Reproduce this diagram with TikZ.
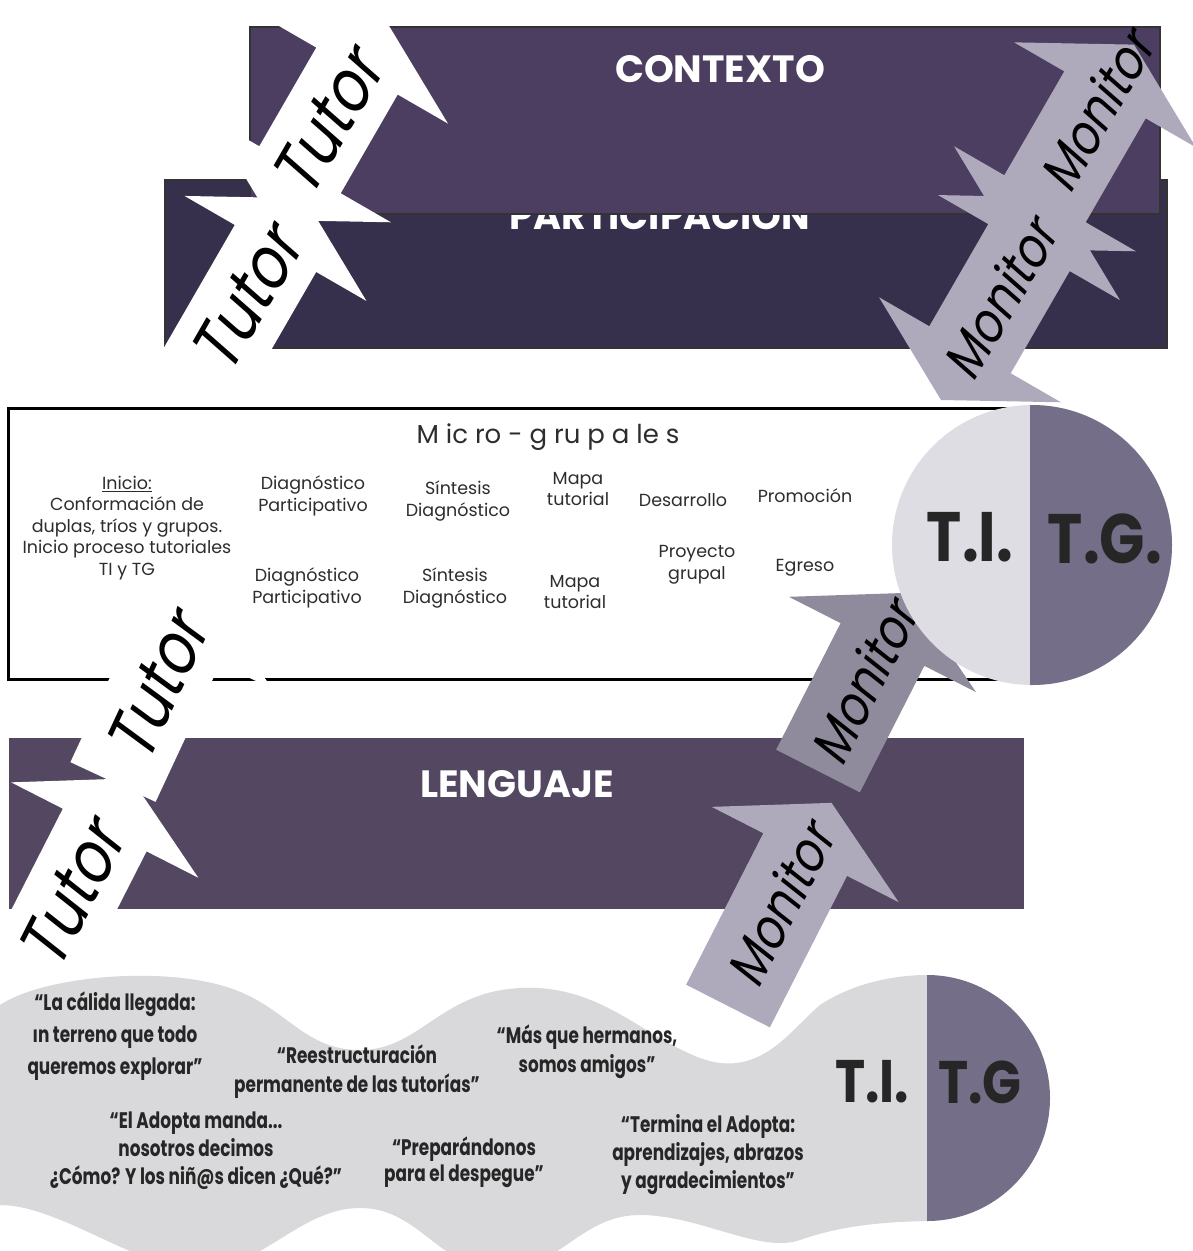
\documentclass[tikz,border=0pt]{standalone}
\usepackage{fontspec}
\setmainfont{Poppins}
\newfontfamily\armfont{Poppins}[FakeSlant=0.2, FakeStretch=0.85]
\newfontfamily\quotefont{Poppins}[FakeStretch=0.75]
\newfontfamily\bigfont{Poppins}[FakeStretch=0.85]
\usetikzlibrary{calc}
\definecolor{ctxfill}{RGB}{76,62,96}
\definecolor{partfill}{RGB}{54,48,76}
\definecolor{lengfill}{RGB}{84,71,97}
\definecolor{monlight}{RGB}{174,170,188}
\definecolor{mondark}{RGB}{143,139,156}
\definecolor{tilight}{RGB}{222,221,227}
\definecolor{tgdark}{RGB}{116,110,136}
\definecolor{ribbongray}{RGB}{217,217,220}
\definecolor{microtext}{RGB}{45,45,45}
\newcommand{\armwidth}{47}
\newcommand{\armspan}{105}
\newcommand{\armhead}{58}
% arrow with one head: style, name, tail, angle, length, label pos, label
\newcommand{\onearrow}[7]{%
    \begin{scope}[shift={#3}, rotate=#4]
        \fill[#1] (0,-\armwidth) -- ({#5-\armhead},-\armwidth) -- ({#5-\armhead},-\armspan)
            -- (#5,0) -- ({#5-\armhead},\armspan) -- ({#5-\armhead},\armwidth) -- (0,\armwidth) -- cycle;
        \node[#1 text, rotate=#4] (#2) at (#6,0) {#7};
    \end{scope}}
% arrow with two heads: style, name, first tip, angle, length, label pos, label
\newcommand{\twoarrow}[7]{%
    \begin{scope}[shift={#3}, rotate=#4]
        \fill[#1] (0,0) -- (\armhead,\armspan) -- (\armhead,\armwidth) -- ({#5-\armhead},\armwidth)
            -- ({#5-\armhead},\armspan) -- (#5,0) -- ({#5-\armhead},-\armspan) -- ({#5-\armhead},-\armwidth)
            -- (\armhead,-\armwidth) -- (\armhead,-\armspan) -- cycle;
        \node[#1 text, rotate=#4] (#2) at (#6,0) {#7};
    \end{scope}}
\tikzset{
    tutorarm/.style={fill=white},
    tutorarm text/.style={font=\armfont\fontsize{70}{70}\selectfont, text=black, inner sep=0pt},
    monarm/.style={fill=monlight},
    monarm text/.style={font=\armfont\fontsize{54}{54}\selectfont, text=black, inner sep=0pt},
    mondeep/.style={fill=mondark},
    mondeep text/.style={monarm text},
    bandbox/.style={fill=#1, draw=black!80, line width=1.5pt},
    bandtitle/.style={font=\bfseries\fontsize{38}{38}\selectfont, text=white, inner sep=0pt, anchor=base},
    phasetext/.style={font=\fontsize{17.5}{21.5}\selectfont, text=microtext, align=center, inner sep=0pt},
    quotetext/.style={font=\quotefont\bfseries\fontsize{22.5}{#1}\selectfont, text=black!85, align=center, inner sep=0pt},
    quotetext/.default=29,
    tutext/.style={font=\bigfont\bfseries\fontsize{#1}{#1}\selectfont, text=black!85, inner sep=0pt}
}
\begin{document}
\begin{tikzpicture}[x=1pt, y=-1pt]
    \useasboundingbox (0,0) rectangle (1193,1251);
    \clip (0,0) rectangle (1193,1251);

    \path[bandbox=partfill] (165,180) rectangle (1167,348);
    \node[bandtitle] (part) at (660,229) {PARTICIPACIÓN};
    \path[bandbox=ctxfill] (250,27) rectangle (1160,214);
    \node[bandtitle] (ctx) at (720,82) {CONTEXTO};

    \onearrow{tutorarm}{tutA}{(188,400)}{60}{233}{117}{Tutor}
    \twoarrow{tutorarm}{tutB}{(271,220)}{60}{230}{113}{Tutor}
    \twoarrow{monarm}{monB}{(1016,249)}{60}{236}{160}{Monitor}
    \twoarrow{monarm}{monA}{(941,400)}{60}{234}{117}{Monitor}

    \path[draw=black, line width=3pt, fill=white] (8,408) rectangle (1030,679);
    \path[bandbox=lengfill, draw=none] (9,738) rectangle (1024,909);
    \node[bandtitle] (leng) at (517,797) {LENGUAJE};

    \onearrow{tutorarm}{tutC}{(113,782)}{65}{210}{105}{Tutor}
    \onearrow{tutorarm}{tutD}{(13,1010)}{63}{260}{130}{Tutor}
    \onearrow{mondeep}{monC}{(818,771)}{63}{200}{100}{Monitor}
    \onearrow{monarm}{monD}{(728,1006)}{63}{228}{114}{Monitor}

    \node[phasetext, font=\fontsize{26}{26}\selectfont] (micro) at (548,437) {M ic ro - g ru p a le s};
    \node[phasetext] (inicio) at (127,528) {\underline{Inicio:}\\Conformación de\\duplas, tríos y grupos.\\Inicio proceso tutoriales\\TI y TG};
    \node[phasetext] (diagA) at (313,496) {Diagnóstico\\Participativo};
    \node[phasetext] (sinA) at (458,501) {Síntesis\\Diagnóstico};
    \node[phasetext] (mapaA) at (578,489) {Mapa\\tutorial};
    \node[phasetext] (desa) at (683,500) {Desarrollo};
    \node[phasetext] (promo) at (805,496) {Promoción};
    \node[phasetext] (diagB) at (307,588) {Diagnóstico\\Participativo};
    \node[phasetext] (sinB) at (455,588) {Síntesis\\Diagnóstico};
    \node[phasetext] (mapaB) at (575,592) {Mapa\\tutorial};
    \node[phasetext] (proy) at (697,565) {Proyecto\\grupal};
    \node[phasetext] (egreso) at (805,568) {Egreso};

    \coordinate (tcirc) at (1032,545);
    \fill[tilight] (tcirc) circle[radius=140];
    \begin{scope}
        \clip (1030,400) rectangle (1180,690);
        \fill[tgdark] (tcirc) circle[radius=140];
    \end{scope}
    \node[tutext=70] (tiA) at (970,537) {T.I.};
    \node[tutext=70] (tgA) at (1105,539) {T.G.};

    \fill[ribbongray] (0,1005)
        .. controls (40,978) and (150,966) .. (220,985)
        .. controls (285,1002) and (300,1050) .. (360,1050)
        .. controls (420,1050) and (440,992) .. (520,988)
        .. controls (600,984) and (640,1035) .. (700,1058)
        .. controls (760,1080) and (790,1030) .. (820,1005)
        .. controls (850,985) and (890,975) .. (927,975)
        -- (927,1221)
        .. controls (880,1222) and (840,1226) .. (800,1240)
        .. controls (760,1254) and (700,1215) .. (640,1215)
        .. controls (580,1215) and (560,1270) .. (500,1270)
        .. controls (440,1270) and (420,1208) .. (360,1208)
        .. controls (300,1208) and (260,1270) .. (200,1270)
        .. controls (140,1270) and (60,1205) .. (0,1205)
        -- cycle;
    \coordinate (bcirc) at (927,1098);
    \begin{scope}
        \clip (927,960) rectangle (1070,1240);
        \fill[tgdark] (bcirc) circle[radius=123];
    \end{scope}
    \node[tutext=60] (tiB) at (872,1082) {T.I.};
    \node[tutext=60] (tgB) at (980,1082) {T.G};

    \node[quotetext=32] (qA) at (115,1036) {“La cálida llegada:\\{\i}n terreno que  todo\\queremos explorar”};
    \node[quotetext] (qB) at (357,1072) {“Reestructuración\\permanente de las tutorías”};
    \node[quotetext] (qC) at (587,1052) {“Más que hermanos,\\somos amigos”};
    \node[quotetext=28] (qD) at (196,1151) {“El Adopta manda...\\nosotros decimos\\¿Cómo? Y los niñ@s dicen ¿Qué?”};
    \node[quotetext=26] (qE) at (464,1162) {“Preparándonos\\para el despegue”};
    \node[quotetext=28] (qF) at (708,1155) {“Termina el Adopta:\\aprendizajes, abrazos\\y agradecimientos”};
\end{tikzpicture}
\end{document}
